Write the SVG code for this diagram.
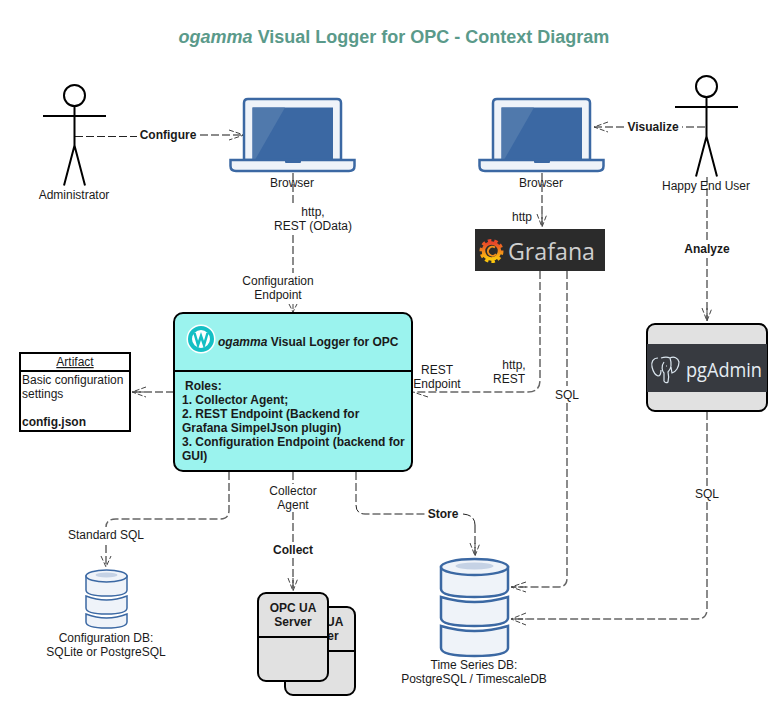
<svg xmlns="http://www.w3.org/2000/svg" width="783" height="709" viewBox="0 0 783 709">
<style>
text{font-family:"Liberation Sans",Arial,sans-serif;font-size:12px;fill:#1a1a1a;text-anchor:middle}
.b{font-weight:bold}
.l{text-anchor:start}
.title{font-size:18px;font-weight:bold;fill:#5a9a8a}
.c{fill:none;stroke:#666;stroke-width:1.5;stroke-dasharray:8 3}
.ct{fill:none;stroke:#222;stroke-width:1;stroke-dasharray:8 3}
.a{fill:none;stroke:#444;stroke-width:1;stroke-dasharray:5 2}
.actor{fill:#fff;stroke:#000;stroke-width:2}
.box{stroke:#000;stroke-width:2}
.lapb{fill:#eff3f9;stroke:#3b68a3;stroke-width:2.5}
.db{fill:#eff3f9;stroke:#3b68a3}
.logo{font-family:"Open Sans","Liberation Sans",sans-serif;text-anchor:start}
</style>
<defs>
<linearGradient id="gf" x1="0" y1="0" x2="0" y2="1"><stop offset="0" stop-color="#e8452a"/><stop offset="1" stop-color="#fbc60d"/></linearGradient>
<g id="laptop">
<path class="lapb" d="M0 62V5Q0 1 4 1H93Q97 1 97 5V62Z"/>
<rect x="8.500" y="9.500" width="80.500" height="51.500" fill="#3b68a3"/>
<path d="M8.500 9.500H41L11.500 61H8.500Z" fill="#5079ac"/>
<path class="lapb" d="M-13.500 62H110.500V68Q110.500 73 105 73H-8Q-13.500 73-13.500 68Z" fill="#e3e9f3"/>
<rect x="41" y="62" width="16" height="3" rx="1" fill="#3b68a3"/>
</g>
<g id="actor">
<circle class="actor" cx="0" cy="0" r="10.500"/>
<path class="actor" fill="none" d="M0 10.500V50M-31.500 20.500H31.500M0 50L-10.500 90M0 50L10.500 90"/>
</g>
</defs>
<rect width="783" height="709" fill="#fff"/>
<text class="title" x="394" y="43"><tspan font-style="italic">ogamma</tspan> Visual Logger for OPC - Context Diagram</text>

<g id="connectors">
<path class="ct" d="M75 136.500H137"/><path class="c" d="M200 135H244"/><path class="a" d="M229 130L244 135L229 140"/>
<path class="c" d="M293 173V206M293 235V273"/><path class="a" d="M293 304V312M289 304L293 312L297 304"/>
<path class="c" d="M705 127H682"/><path class="c" d="M624 127H594"/><path class="a" d="M608 122L594 127L608 132"/>
<path class="c" d="M542 173V227"/><path class="a" d="M537 214L542 227L547 214M542 214V227"/>
<path class="c" d="M707 177V240M707 258V322"/><path class="a" d="M702 308L707 321L712 308M707 308V321"/>
<path class="c" d="M540 271V380Q540 392 528 392H414"/><path class="a" d="M428 397L413 392"/>
<path class="c" d="M567 271V386M567 403V578Q567 587 558 587H512"/><path class="a" d="M526 582L511 587L526 592M511 587H526"/>
<path class="c" d="M707 412V486M707 502V609Q707 619 697 619H512"/><path class="a" d="M526 613L511 619L526 625M511 619H526"/>
<path class="c" d="M174 392H133"/><path class="a" d="M146 387L132 392L146 397M132 392H146"/>
<path class="c" d="M229 472V510Q229 519 220 519H116Q106 519 106 527"/><path class="c" d="M106 545V566"/><path class="a" d="M101 556L106 567L111 556"/>
<path class="c" d="M293 472V484M293 512V542M293 558V590"/><path class="a" d="M288 578L293 591L298 578M293 578V591"/>
<path class="ct" d="M356 472V505Q356 514 365 514H425M463 514Q475 515 475 525"/><path class="c" d="M475 525V556"/><path class="a" d="M470 543L475 556L480 543M475 543V556"/>
</g>

<g id="administrator"><use href="#actor" x="74.500" y="95.500"/><text x="74" y="199">Administrator</text></g>
<g id="browser1"><use href="#laptop" x="244" y="98"/><text x="292" y="187">Browser</text></g>
<g id="browser2"><use href="#laptop" x="493" y="98"/><text x="541" y="187">Browser</text></g>
<g id="enduser"><use href="#actor" x="706.500" y="86.500"/><text x="706" y="190">Happy End User</text></g>
<g id="grafana">
<rect x="475" y="229" width="130" height="42" fill="#2b2b2b"/>
<circle cx="491.500" cy="251" r="10.500" fill="none" stroke="url(#gf)" stroke-width="3" stroke-dasharray="3.500 3"/>
<circle cx="491.500" cy="251" r="8" fill="none" stroke="url(#gf)" stroke-width="3.500"/>
<path d="M496 254a4.500 4.500 0 1 1-1-6.500" fill="none" stroke="#f3901c" stroke-width="2"/>
<text class="logo" x="508" y="260" textLength="87" lengthAdjust="spacingAndGlyphs" style="font-size:23px;fill:#cfcfcf">Grafana</text>
</g>
<g id="pgadmin">
<rect class="box" x="647" y="324" width="120" height="87" rx="8" fill="#e1e1e1"/>
<rect x="647" y="344" width="120" height="48" fill="#373a40"/>
<path d="M658 358c-5 0-7 4-6 9 1 4 3 8 6 9 2 0 3-3 3-6M661 358c3-1 7-1 9 0 4-2 8 0 9 4 0 5-3 10-7 11l-1-6M664 362c-3 4-2 9 0 11v8c1 2 3 2 4 1 1-3 1-6 0-10 3-3 4-8 2-14M666 366h1" fill="none" stroke="#dbe6ef" stroke-width="1.200"/>
<text class="logo" x="686" y="377" textLength="76" lengthAdjust="spacingAndGlyphs" style="font-size:20px;fill:#e6edf3">pgAdmin</text>
</g>
<g id="main">
<rect class="box" x="174" y="313" width="238" height="158" rx="9" fill="#9bf3ee"/>
<path class="box" fill="none" d="M174 371H412"/>
<circle cx="201" cy="339" r="14.500" fill="#fff"/>
<circle cx="201" cy="339" r="11" fill="none" stroke="#14bfc4" stroke-width="4"/>
<path d="M194.500 333L198 345L201 336L204 345L207.500 333" fill="none" stroke="#14bfc4" stroke-width="2.500"/>
<text class="l b" x="218" y="346"><tspan font-style="italic">ogamma</tspan> Visual Logger for OPC</text>
<text class="l b" x="185" y="390">Roles:</text>
<text class="l b" x="182" y="404">1. Collector Agent;</text>
<text class="l b" x="182" y="418">2. REST Endpoint (Backend for</text>
<text class="l b" x="182" y="432">Grafana SimpelJson plugin)</text>
<text class="l b" x="182" y="446">3. Configuration Endpoint (backend for</text>
<text class="l b" x="182" y="460">GUI)</text>
</g>
<g id="artifact">
<rect class="box" x="20" y="353" width="110" height="78" fill="#fff"/>
<path class="box" d="M20 371H130"/>
<text x="75" y="366" text-decoration="underline">Artifact</text>
<text class="l" x="22" y="384">Basic configuration</text>
<text class="l" x="22" y="398">settings</text>
<text class="l b" x="22" y="426">config.json</text>
</g>
<g id="configdb">
<path class="db" stroke-width="1.500" d="M86 614v8q0 6 20.500 6t20.500-6v-8q-20.500 8-41 0z"/>
<path class="db" stroke-width="1.500" d="M86 596v12q0 6 20.500 6t20.500-6v-12q-20.500 8-41 0z"/>
<path class="db" stroke-width="1.500" d="M86 576v14q0 6 20.500 6t20.500-6v-14z"/>
<ellipse class="db" stroke-width="1.500" cx="106.500" cy="576" rx="20.500" ry="6"/>
<ellipse cx="106.500" cy="575" rx="11" ry="2.500" fill="#c5d2e5"/>
<text x="106" y="642">Configuration DB:</text><text x="106" y="656">SQLite or PostgreSQL</text>
</g>
<g id="opcua">
<rect class="box" x="285" y="607" width="70" height="88" rx="8" fill="#e1e1e1"/>
<path class="box" d="M285 651H355"/>
<text class="b" x="320" y="626">OPC UA</text><text class="b" x="320" y="640">Server</text>
<rect class="box" x="258" y="593" width="70" height="88" rx="8" fill="#e1e1e1"/>
<path class="box" d="M258 637H328"/>
<text class="b" x="293" y="612">OPC UA</text><text class="b" x="293" y="626">Server</text>
</g>
<g id="tsdb">
<path class="db" stroke-width="2.500" d="M441 626v22q0 8 33.500 8t33.500-8v-22q-33.500 10-67 0z"/>
<path class="db" stroke-width="2.500" d="M441 597v21q0 8 33.500 8t33.500-8v-21q-33.500 10-67 0z"/>
<path class="db" stroke-width="2.500" d="M441 567v22q0 8 33.500 8t33.500-8v-22z"/>
<ellipse class="db" stroke-width="2.500" cx="474.500" cy="567" rx="33.500" ry="8"/>
<ellipse cx="474.500" cy="566" rx="19" ry="3.500" fill="#c5d2e5"/>
<text x="474" y="669">Time Series DB:</text><text x="474" y="683">PostgreSQL / TimescaleDB</text>
</g>
<g id="labels">
<text class="b" x="168" y="139">Configure</text>
<text x="313" y="216">http,</text><text x="313" y="230">REST (OData)</text>
<text x="278" y="285">Configuration</text><text x="278" y="299">Endpoint</text>
<text class="b" x="653" y="131">Visualize</text>
<text x="522" y="221">http</text>
<text class="b" x="707" y="253">Analyze</text>
<text x="437" y="374">REST</text><text x="437" y="388">Endpoint</text>
<text x="514" y="369">http,</text><text x="509" y="383">REST</text>
<text x="567" y="399">SQL</text>
<text x="707" y="498">SQL</text>
<text x="106" y="539">Standard SQL</text>
<text x="293" y="495">Collector</text><text x="293" y="509">Agent</text>
<text class="b" x="293" y="554">Collect</text>
<text class="b" x="443" y="518">Store</text>
</g>
</svg>
